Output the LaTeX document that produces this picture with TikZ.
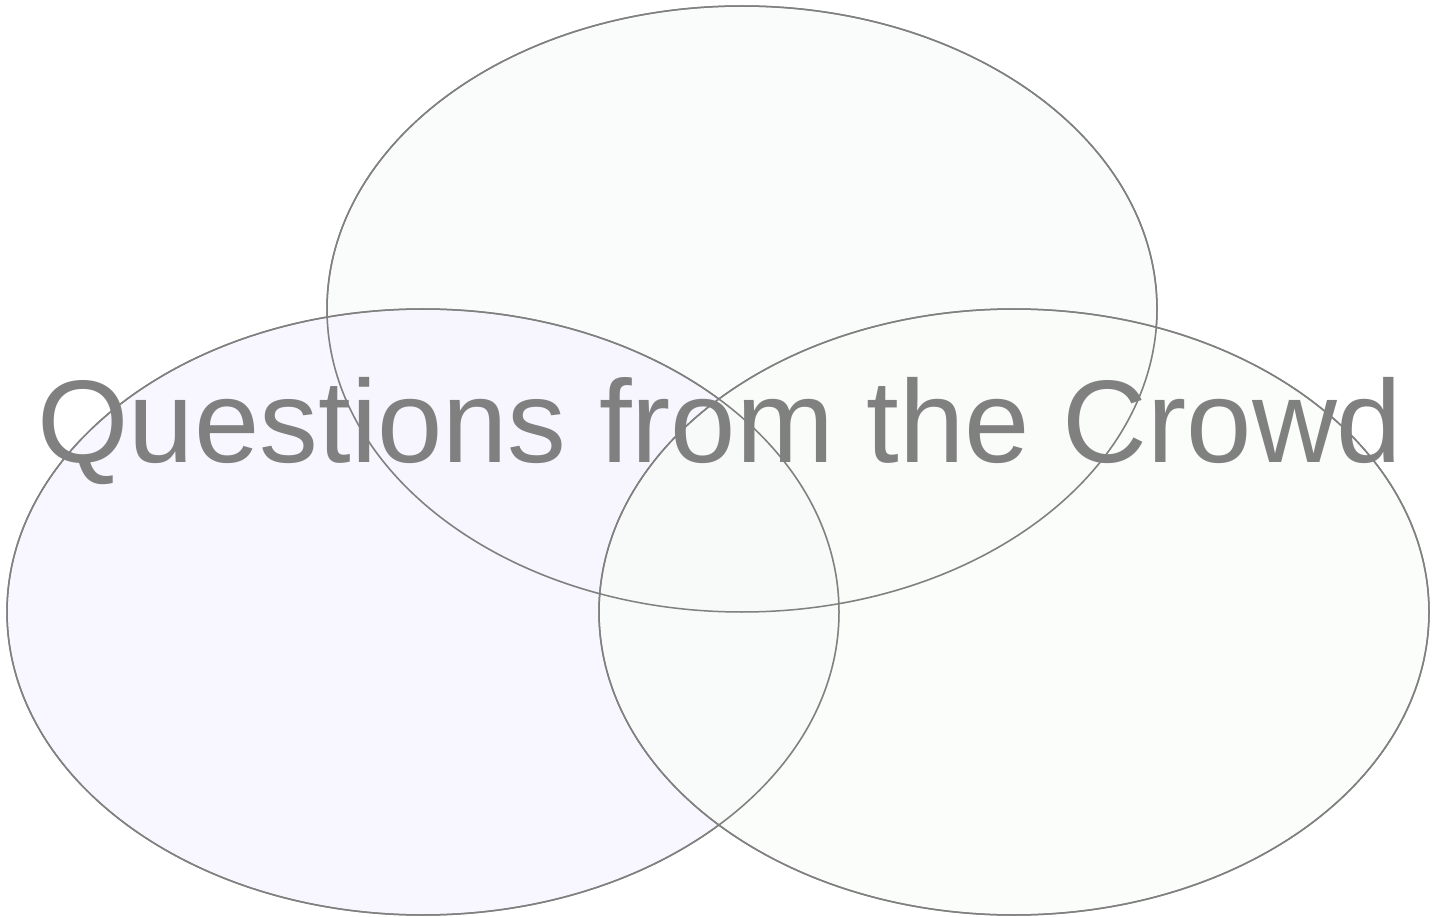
\documentclass[tikz,border=0pt]{standalone}
\usepackage{fontspec}
\setmainfont{Liberation Sans}
\definecolor{linegray}{HTML}{808080}
\definecolor{topfill}{HTML}{F8FBFB}
\definecolor{leftfill}{HTML}{F6F4FF}
\definecolor{rightfill}{HTML}{F9FDF7}
\begin{document}
\begin{tikzpicture}[x=1pt,y=-1pt,
  venn/.style={draw=linegray,line width=1.5pt,fill opacity=0.7}]
\useasboundingbox (0,0) rectangle (1441,917);
\fill[white] (0,0) rectangle (1441,917);
\path[venn,fill=topfill] (742,309) ellipse [x radius=415,y radius=303];
\path[venn,fill=leftfill] (423,612) ellipse [x radius=416,y radius=303];
\path[venn,fill=rightfill] (1014,612) ellipse [x radius=415,y radius=303];
\draw[linegray,line width=1.5pt] (742,309) ellipse [x radius=415,y radius=303];
\draw[linegray,line width=1.5pt] (423,612) ellipse [x radius=416,y radius=303];
\draw[linegray,line width=1.5pt] (1014,612) ellipse [x radius=415,y radius=303];
\node[text=linegray,font=\fontsize{117.5}{118}\selectfont,anchor=base,inner sep=0pt] (title) at (720,462) {Questions from the Crowd};
\end{tikzpicture}
\end{document}
